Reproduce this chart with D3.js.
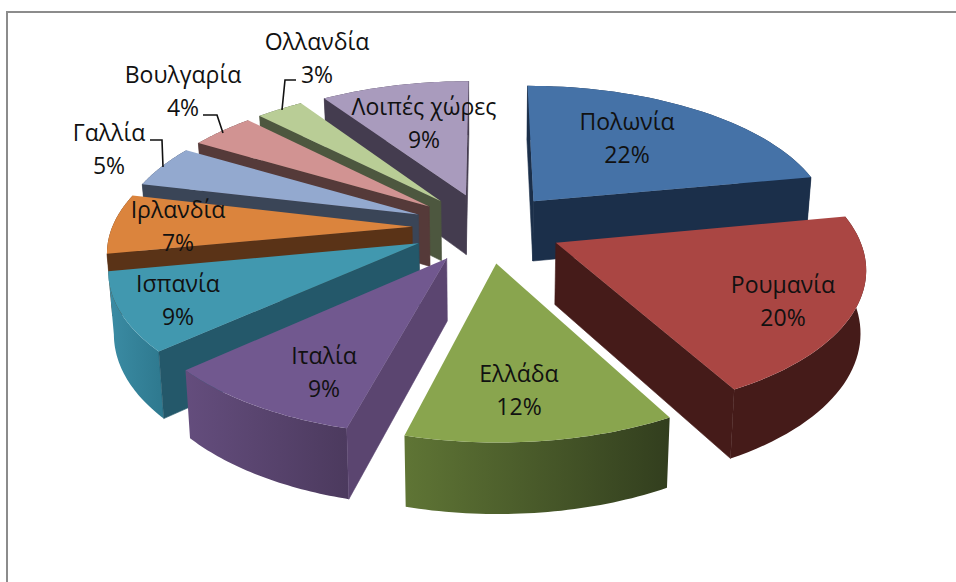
<!DOCTYPE html>
<html>
<head>
<meta charset="utf-8">
<script src="https://d3js.org/d3.v7.min.js"></script>
<style>
    body { margin: 0; background: #fff; }
    text { font-family: "Open Sans", "Noto Sans", sans-serif; font-size: 23px; fill: #111; text-anchor: middle; }
</style>
</head>
<body>
<svg id="vis" width="956" height="582"></svg>

<script>
    // Chart data, shares (labels show them rounded)
    var countries = ["Πολωνία", "Ρουμανία", "Ελλάδα", "Ιταλία", "Ισπανία", "Ιρλανδία", "Γαλλία", "Βουλγαρία", "Ολλανδία", "Λοιπές χώρες"];
    var shares = [22, 20.1, 12, 9.2, 8.7, 6.7, 4.8, 4.1, 3, 9.4];

    // Colours per slice: top face, cut face, outer wall left and right
    var topColors = ["#4572a7", "#aa4643", "#89a54e", "#71588f", "#4198af", "#db843d", "#93a9cf", "#d19392", "#b9cd96", "#a99bbd"];
    var cutColors = ["#1b2f4a", "#451b19", "#3a4720", "#5b4570", "#24586a", "#5a3317", "#3a4557", "#553a39", "#4d573f", "#443c4f"];
    var wallLeft = ["#1b2f4a", "#451b19", "#5f7535", "#644d7d", "#3b8ca4", "#5a3317", "#3a4557", "#553a39", "#4d573f", "#443c4f"];
    var wallRight = ["#1b2f4a", "#451b19", "#323e1e", "#4c3a5e", "#2f7a90", "#5a3317", "#3a4557", "#553a39", "#4d573f", "#443c4f"];

    // Where the labels sit, baseline of the first line
    var labelAnchors = [[627, 130], [783, 293], [519, 382], [324, 364], [178, 292], [178, 218], [109, 141], [183, 83], [317, 50], [424, 115]];
    var lineGap = 33;

    // Leader lines for the small slices
    var leaders = [
        { slice: 6, points: [[150, 140], [162, 140], [163, 167]] },
        { slice: 7, points: [[203, 115], [217, 115], [223, 133]] },
        { slice: 8, points: [[296, 80], [285, 80], [282, 110]] }
    ];

    var svg = d3.select("#vis");
    var defs = svg.append("defs");

    // Frame, only top and left
    svg.append("path")
        .attr("d", "M7,582V12H956")
        .attr("fill", "none")
        .attr("stroke", "#8c8c8c")
        .attr("stroke-width", 2);

    // Ground plane scales, pie radius = 1
    var cx = 487, cy = 227.5;
    var xScale = d3.scaleLinear().domain([0, 1]).range([0, 300]);
    var yScale = d3.scaleLinear().domain([0, 1]).range([0, 140]);
    var depth = 0.15;
    var explode = 0.25;
    var thickness = 61;

    function project(u, v, low) {
        var s = 1 / (1 - depth * v);
        var shrink = low ? 0.985 : 1;
        return [
            cx + xScale(u) * s * shrink,
            cy + yScale(v) * s + (low ? thickness * (1 + 0.75 * (s - 1)) : 0)
        ];
    }

    var pie = d3.pie().sort(null).value(function(d) { return d; });
    var slices = pie(shares).map(function(d, i) {
        var mid = (d.startAngle + d.endAngle) / 2;
        return {
            index: i,
            start: d.startAngle,
            end: d.endAngle,
            u0: explode * Math.sin(mid),
            v0: -explode * Math.cos(mid)
        };
    });

    function outerPoint(d, a, low) {
        return project(d.u0 + Math.sin(a), d.v0 - Math.cos(a), low);
    }

    function rim(d, low) {
        return d3.range(0, 41).map(function(k) {
            return outerPoint(d, d.start + (d.end - d.start) * k / 40, low);
        });
    }

    var polygon = d3.line().curve(d3.curveLinearClosed);

    // Far slices first so the near ones cover them
    var order = slices.slice().sort(function(a, b) { return a.v0 - b.v0; });

    order.forEach(function(d) {
        var i = d.index;
        var g = svg.append("g");
        var topRim = rim(d, false);
        var lowRim = rim(d, true);
        var apex = project(d.u0, d.v0, false);
        var apexLow = project(d.u0, d.v0, true);

        // Outer wall
        var xs = topRim.map(function(p) { return p[0]; });
        var grad = defs.append("linearGradient")
            .attr("id", "wall" + i)
            .attr("gradientUnits", "userSpaceOnUse")
            .attr("x1", d3.min(xs)).attr("x2", d3.max(xs))
            .attr("y1", 0).attr("y2", 0);
        grad.append("stop").attr("offset", 0).attr("stop-color", wallLeft[i]);
        grad.append("stop").attr("offset", 1).attr("stop-color", wallRight[i]);

        g.append("path")
            .attr("d", polygon(topRim.concat(lowRim.slice().reverse())))
            .attr("fill", "url(#wall" + i + ")");

        // Cut faces, only the ones turned towards the viewer
        // thin stroke so no white seam shows next to the wall
        var pStart = outerPoint(d, d.start, false);
        var pEnd = outerPoint(d, d.end, false);
        if (pStart[0] < apex[0]) {
            g.append("path")
                .attr("d", polygon([apex, pStart, outerPoint(d, d.start, true), apexLow]))
                .attr("fill", cutColors[i])
                .attr("stroke", cutColors[i])
                .attr("stroke-width", 0.6);
        }
        if (pEnd[0] > apex[0]) {
            g.append("path")
                .attr("d", polygon([apex, pEnd, outerPoint(d, d.end, true), apexLow]))
                .attr("fill", cutColors[i])
                .attr("stroke", cutColors[i])
                .attr("stroke-width", 0.6);
        }

        // Top face
        g.append("path")
            .attr("d", polygon([apex].concat(topRim)))
            .attr("fill", topColors[i]);
    });

    // Leader lines
    svg.selectAll(".leader")
        .data(leaders)
        .enter().append("path")
        .attr("class", "leader")
        .attr("d", function(d) { return d3.line()(d.points); })
        .attr("fill", "none")
        .attr("stroke", "#111")
        .attr("stroke-width", 1.6);

    // Labels
    countries.forEach(function(name, i) {
        svg.append("text")
            .attr("x", labelAnchors[i][0])
            .attr("y", labelAnchors[i][1])
            .text(name);
        svg.append("text")
            .attr("x", labelAnchors[i][0])
            .attr("y", labelAnchors[i][1] + lineGap)
            .text(Math.round(shares[i]) + "%");
    });
</script>
</body>
</html>
